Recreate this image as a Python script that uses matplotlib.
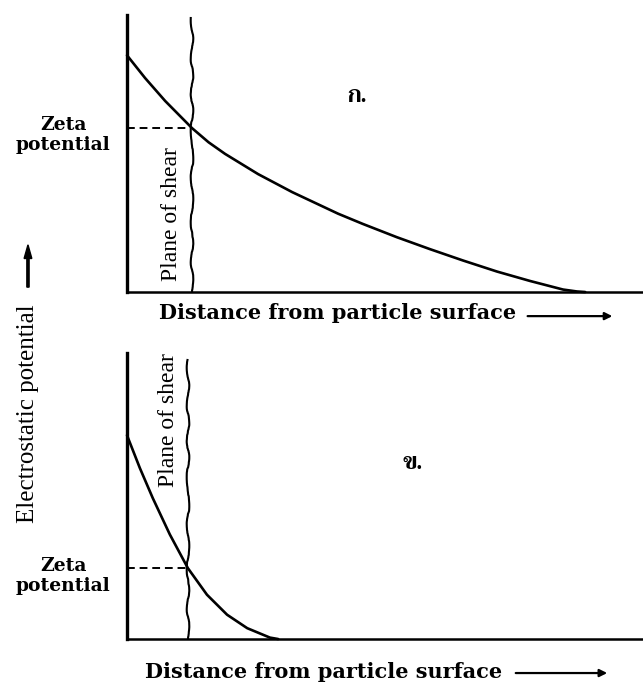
import matplotlib
matplotlib.use("Agg")
import matplotlib.pyplot as plt

# values (distance in arbitrary units, potential 0..1)
top_dist = [0.0, 0.35, 0.74, 1.26, 1.58, 1.90, 2.54, 3.20, 4.09, 4.57, 5.23,
            5.87, 6.51, 7.17, 7.81, 8.45, 8.72, 8.88]
top_pot = [0.855, 0.773, 0.690, 0.592, 0.541, 0.499, 0.426, 0.361, 0.283,
           0.246, 0.198, 0.155, 0.114, 0.074, 0.040, 0.009, 0.002, 0.0]
top_shear = 1.26
top_zeta = 0.592

bot_dist = [0.0, 0.25, 0.50, 0.83, 1.18, 1.55, 1.94, 2.33, 2.77, 2.93]
bot_pot = [0.713, 0.598, 0.493, 0.366, 0.248, 0.155, 0.085, 0.038, 0.005, 0.0]
bot_shear = 1.18
bot_zeta = 0.248

panel_labels = ["ก.", "ข."]
xlabel = "Distance from particle surface"
ylabel = "Electrostatic potential"
zeta_label = "Zeta\npotential"
shear_label = "Plane of shear"

times = ["Liberation Serif", "DejaVu Serif"]
bold_serif = ["DejaVu Serif"]
thai = ["Trirong", "DejaVu Serif"]

fig = plt.figure(figsize=(6.43, 6.82), dpi=100)
ax1 = fig.add_axes([0.1975, 0.5718, 0.8025, 0.406])
ax2 = fig.add_axes([0.1975, 0.063, 0.8025, 0.419])


def panel(ax, dist, pot, shear, zeta, shear_top, label, label_xy,
          shear_xy, zeta_y, xlab_xy, arrow_x):
    ax.set_xlim(0, 10)
    ax.set_ylim(0, 1)
    for s in ["top", "right"]:
        ax.spines[s].set_visible(False)
    ax.spines["left"].set_linewidth(2.4)
    ax.spines["bottom"].set_linewidth(1.8)
    ax.set_xticks([])
    ax.set_yticks([])
    ax.patch.set_alpha(0)

    ax.plot(dist, pot, color="black", lw=1.9, clip_on=False,
            solid_capstyle="round", solid_joinstyle="round")
    ax.plot([0, shear], [zeta, zeta], color="black", lw=1.4,
            ls=(0, (4, 2.5)))
    wav, = ax.plot([shear, shear], [0, shear_top], color="black", lw=1.5)
    wav.set_sketch_params(1.3, 50, 3)

    ax.text(shear_xy[0], shear_xy[1], shear_label, rotation=90, ha="center",
            va="center", fontsize=17, family=times)
    ax.text(-1.24, zeta_y, zeta_label, ha="center", va="center",
            fontsize=13.5, fontweight="bold", family=bold_serif,
            linespacing=1.1)
    ax.text(label_xy[0], label_xy[1], label, ha="center", va="center",
            fontsize=16, fontweight="bold", family=thai)
    ax.text(xlab_xy[0], xlab_xy[1], xlabel, ha="center", va="center",
            fontsize=15, fontweight="bold", family=bold_serif)
    ax.annotate("", xy=(arrow_x[1], arrow_x[2]), xytext=(arrow_x[0], arrow_x[2]),
                annotation_clip=False,
                arrowprops=dict(arrowstyle="-|>", color="black", lw=1.6,
                                mutation_scale=11))


panel(ax1, top_dist, top_pot, top_shear, top_zeta, 0.99, panel_labels[0],
      (4.46, 0.704), (0.87, 0.28), 0.567, (4.09, -0.076), (7.71, 9.46, -0.087))
panel(ax2, bot_dist, bot_pot, bot_shear, bot_zeta, 0.976, panel_labels[1],
      (5.54, 0.612), (0.80, 0.766), 0.220, (3.80, -0.115), (7.48, 9.36, -0.119))

fig.text(0.0435, 0.394, ylabel, rotation=90, ha="center", va="center",
         fontsize=18, family=times)
fig.add_artist(matplotlib.patches.FancyArrow(
    0.0435, 0.579, 0, 0.062, width=0.0035, head_width=0.012,
    head_length=0.02, color="black", transform=fig.transFigure,
    length_includes_head=True))

fig.savefig("out.png", dpi=100, facecolor="white")
